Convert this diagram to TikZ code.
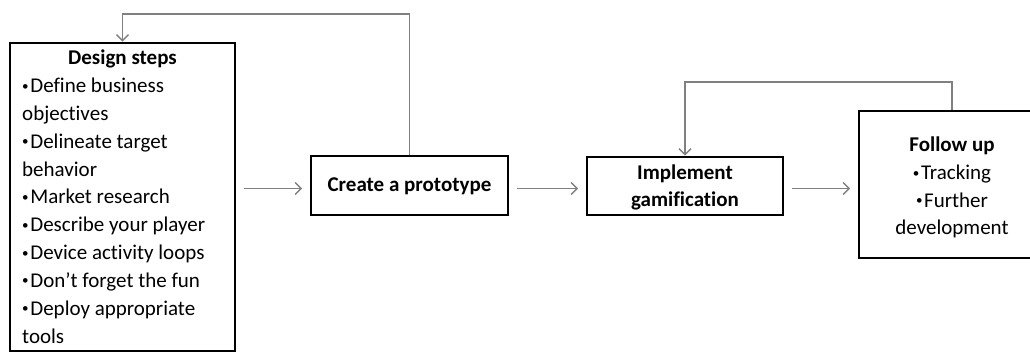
\documentclass[tikz,border=0pt]{standalone}
\usepackage{fontspec}
\usepackage{graphicx}
\setmainfont{Carlito}[Ligatures=NoCommon]
\usetikzlibrary{arrows.meta}
\definecolor{linkgray}{HTML}{808080}
% small bullet as used in the lists
\newcommand\bul{\raisebox{0.12em}{\scalebox{0.62}{•}}\kern0.08em}
\begin{document}
\begin{tikzpicture}[x=1pt,y=-1pt,
  stepbox/.style={draw=black, line width=2.6pt, fill=white, inner sep=0pt},
  conn/.style={draw=linkgray, line width=1.4pt,
    -{Straight Barb[length=6pt,width=12pt,line width=1.4pt]}},
  gap/.style={shorten <=7.5pt, shorten >=7.5pt},
  txt/.style={font=\fontsize{21}{27.8}\selectfont, inner sep=0pt, anchor=base},
  head/.style={txt, font=\fontsize{21}{27.8}\selectfont\bfseries},
]
\useasboundingbox (0,0) rectangle (1030,352);
\clip (0,0) rectangle (1030,352);

% boxes
\node[stepbox, minimum width=225pt, minimum height=308pt] (design) at (122.5,197) {};
\node[stepbox, minimum width=197pt, minimum height=59pt] (proto) at (409.5,185.5) {};
\node[stepbox, minimum width=196pt, minimum height=58pt] (impl) at (685,186) {};
\node[stepbox, minimum width=186pt, minimum height=147pt] (follow) at (952,184.5) {};

% texts
\node[head] (dshead) at (122.5,65) {Design steps};
\foreach \t [count=\i] in {\bul Define business, objectives, \bul Delineate target,
    behavior, \bul Market research, \bul Describe your player, \bul Device activity loops,
    \bul Don’t forget the fun, \bul Deploy appropriate, tools}
  \node[txt, anchor=base west] (ds\i) at (22,{65+27.8*\i}) {\t};

\node[head] (protext) at (409.5,192) {Create a prototype};
\node[head] (impl1) at (685,180) {Implement};
\node[head] (impl2) at (685,207) {gamification};

\node[head] (fuhead) at (952,152) {Follow up};
\node[txt] (fu1) at (952,180) {\bul Tracking};
\node[txt] (fu2) at (952,207.5) {\bul Further};
\node[txt] (fu3) at (952,235) {development};

% forward connectors
\coordinate (row) at (0,188.5);
\draw[conn, gap] (design.east |- row) -- (proto.west |- row);
\draw[conn, gap] (proto.east |- row) -- (impl.west |- row);
\draw[conn, gap] (impl.east |- row) -- (follow.west |- row);

% feedback loops
\coordinate (top1) at (0,14);
\coordinate (top2) at (0,82);
\draw[conn] (proto.north) -- (proto.north |- top1) -| (design.north);
\draw[conn] (follow.north) -- (follow.north |- top2) -| (impl.north);
\end{tikzpicture}
\end{document}
